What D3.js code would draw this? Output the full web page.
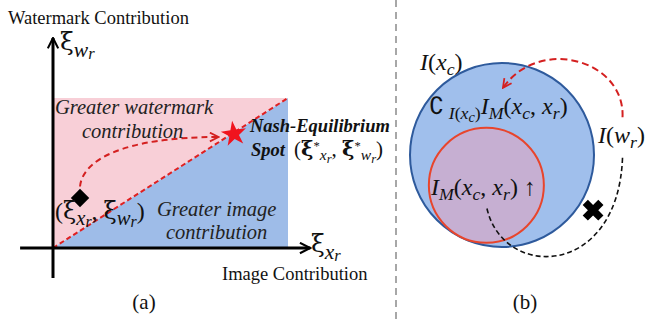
<!DOCTYPE html>
<html><head><meta charset="utf-8">
<script src="https://cdn.jsdelivr.net/npm/d3@7"></script>
<style>body{margin:0;background:#fff}svg{display:block}</style>
</head><body>
<script>
// ---------- data ----------
// panel (a): unit square of contributions
const regionNames = ["Greater watermark contribution", "Greater image contribution"];
const regionColors = ["#f8cfd7", "#9ebce8"];
const diagonal = [[0, 0], [1, 1]];
const startPoint = [0.115, 0.333];          // (xi_xr, xi_wr)
const nashPoint = [0.77, 0.76];             // Nash-Equilibrium spot
const pathCtrl = [[0.115, 0.41], [0.125, 0.58], [0.29, 0.74], [0.705, 0.74]];
const axisLabels = ["Watermark Contribution", "Image Contribution"];
const panelLabels = ["(a)", "(b)"];
// panel (b): information sets (units of outer radius)
const circles = [
  {name: "I(xc)", cx: 0, cy: 0, r: 1, fill: "#a0bfec", stroke: "#2e5a9c"},
  {name: "IM", cx: -0.17, cy: 0.33, r: 0.625, fill: "#c6afd2", stroke: "#e8452c"}
];
const redArc = [[1.31, -0.41], [1.34, -1.03], [0.41, -1.30], [0.01, -0.73]];
const blackArc = [[1.31, 0.03], [1.26, 1.36], [-0.02, 1.36], [-0.17, 0.55]];
const crossPoint = [0.99, 0.60];

const W = 647, H = 324;
const svg = d3.select("body").append("svg").attr("width", W).attr("height", H);
const defs = svg.append("defs");
function marker(id, color, w) {
  defs.append("marker").attr("id", id).attr("viewBox", "0 0 10 10").attr("refX", 9).attr("refY", 5)
    .attr("markerWidth", w).attr("markerHeight", w).attr("orient", "auto").attr("markerUnits", "userSpaceOnUse")
    .append("path").attr("d", "M1,1 L9,5 L1,9").attr("fill", "none").attr("stroke", color).attr("stroke-width", 1.6);
}
marker("arrRed", "#d42020", 11);
marker("arrBlk", "#000", 13);

const SERIF = "Liberation Serif";
const XI = "DejaVu Serif";

// rich text helper: parts = [text, kind, attrs] kind: n (normal), s (sub), ss (sub of sub), p (sup)
function rich(g, x, y, size, parts, opts = {}) {
  const t = g.append("text").attr("x", x).attr("y", y).attr("font-size", size)
    .attr("font-family", SERIF).attr("font-style", "italic")
    .attr("font-weight", opts.weight || "normal").attr("fill", "#111");
  const shifts = Object.assign({n: 0, s: 0.2, ss: 0.34, p: -0.28}, opts.shifts || {});
  const scale = Object.assign({n: 1, s: 0.74, ss: 0.6, p: 0.6}, opts.scale || {});
  let cur = 0;
  parts.forEach(([txt, k, extra]) => {
    const target = shifts[k] * size;
    const ts = t.append("tspan").attr("dy", target - cur).attr("font-size", size * scale[k]).text(txt);
    if (extra) Object.entries(extra).forEach(([a, v]) => ts.attr(a, v));
    cur = target;
  });
  return t;
}
const up = {"font-style": "normal"};
const xi = {"font-style": "normal", "font-family": XI};
const xiB = {"font-style": "normal", "font-family": XI, "font-weight": "bold"};
const axisSub = {shifts: {s: 0.26, ss: 0.34}, scale: {s: 0.86, ss: 0.66}};

// ---------- panel (a) ----------
const x = d3.scaleLinear().domain([0, 1]).range([53, 288]);
const y = d3.scaleLinear().domain([0, 1]).range([248, 98]);
const ga = svg.append("g");

const tri = [
  [[0, 0], [0, 1], [1, 1]],
  [[0, 0], [1, 0], [1, 1]]
];
ga.selectAll("path.region").data(tri).join("path").attr("class", "region")
  .attr("d", d => d3.line().x(p => x(p[0])).y(p => y(p[1]))(d) + "Z")
  .attr("fill", (d, i) => regionColors[i]);

ga.append("path").attr("d", d3.line().x(p => x(p[0])).y(p => y(p[1]))(diagonal))
  .attr("stroke", "#e02020").attr("stroke-width", 2).attr("stroke-dasharray", "5,3").attr("fill", "none");

// axes
ga.append("line").attr("x1", x(0)).attr("x2", x(0)).attr("y1", y(-0.2)).attr("y2", y(1.40))
  .attr("stroke", "#000").attr("stroke-width", 3).attr("marker-end", "url(#arrBlk)");
ga.append("line").attr("x1", x(-0.14)).attr("x2", x(1.095)).attr("y1", y(0)).attr("y2", y(0))
  .attr("stroke", "#000").attr("stroke-width", 3).attr("marker-end", "url(#arrBlk)");

// dashed path from start to Nash
const cp = pathCtrl.map(p => [x(p[0]), y(p[1])]);
ga.append("path").attr("d", `M${cp[0]} C${cp[1]} ${cp[2]} ${cp[3]}`)
  .attr("fill", "none").attr("stroke", "#d42020").attr("stroke-width", 2).attr("stroke-dasharray", "6,4")
  .attr("marker-end", "url(#arrRed)");

ga.append("path").attr("d", d3.symbol(d3.symbolSquare, 170)())
  .attr("transform", `translate(${x(startPoint[0])},${y(startPoint[1])}) rotate(45)`).attr("fill", "#000");
ga.append("path").attr("d", d3.symbol(d3.symbolStar, 200)())
  .attr("transform", `translate(${x(nashPoint[0])},${y(nashPoint[1])}) rotate(-8)`).attr("fill", "#f0141e");

// labels
ga.append("text").attr("x", 8).attr("y", 24).attr("font-family", SERIF).attr("font-size", 18.5).attr("fill", "#111").text(axisLabels[0]);
ga.append("text").attr("x", 222).attr("y", 280).attr("font-family", SERIF).attr("font-size", 18.5).attr("fill", "#111").text(axisLabels[1]);
rich(ga, 60, 50, 25, [["ξ", "n", xi], ["w", "s"], ["r", "ss"]], axisSub);
rich(ga, 311, 252, 25, [["ξ", "n", xi], ["x", "s"], ["r", "ss"]], axisSub);

const wordsTop = regionNames[0].split(" ");
ga.append("text").attr("x", 55).attr("y", 114).attr("font-family", SERIF).attr("font-style", "italic").attr("font-size", 20.5).attr("fill", "#222")
  .text(wordsTop.slice(0, 2).join(" "));
ga.append("text").attr("x", 82).attr("y", 138).attr("font-family", SERIF).attr("font-style", "italic").attr("font-size", 20.5).attr("fill", "#222")
  .text(wordsTop[2]);
const wordsBot = regionNames[1].split(" ");
ga.append("text").attr("x", 157).attr("y", 216).attr("font-family", SERIF).attr("font-style", "italic").attr("font-size", 20.5).attr("fill", "#222")
  .text(wordsBot.slice(0, 2).join(" "));
ga.append("text").attr("x", 166).attr("y", 239).attr("font-family", SERIF).attr("font-style", "italic").attr("font-size", 20.5).attr("fill", "#222")
  .text(wordsBot[2]);

rich(ga, 55, 219, 24, [["(", "n", up], ["ξ", "n", xi], ["x", "s"], ["r", "ss"], [", ", "n", up], ["ξ", "n", xi], ["w", "s"], ["r", "ss"], [")", "n", up]], axisSub);

ga.append("text").attr("x", 250).attr("y", 132).attr("font-family", SERIF).attr("font-style", "italic").attr("font-weight", "bold").attr("font-size", 18.5).attr("fill", "#111").text("Nash-Equilibrium");
ga.append("text").attr("x", 251).attr("y", 156).attr("font-family", SERIF).attr("font-style", "italic").attr("font-weight", "bold").attr("font-size", 18.5).attr("fill", "#111").text("Spot");
rich(ga, 294, 156, 21, [["(", "n", up], ["ξ", "n", xiB], ["*", "p", up], ["x", "s"], ["r", "ss"], [", ", "n", up], ["ξ", "n", xiB], ["*", "p", up], ["w", "s"], ["r", "ss"], [")", "n", up]]);

ga.append("text").attr("x", 144).attr("y", 309).attr("text-anchor", "middle").attr("font-family", SERIF).attr("font-size", 21).attr("fill", "#111").text(panelLabels[0]);

// divider
svg.append("line").attr("x1", 396).attr("x2", 396).attr("y1", 0).attr("y2", H)
  .attr("stroke", "#8a8a8a").attr("stroke-width", 1.5).attr("stroke-dasharray", "7,5");

// ---------- panel (b) ----------
const R = 92;
const bx = d3.scaleLinear().domain([0, 1]).range([502, 502 + R]);
const by = d3.scaleLinear().domain([0, 1]).range([155, 155 + R]);
const gb = svg.append("g");
gb.selectAll("circle").data(circles).join("circle")
  .attr("cx", d => bx(d.cx)).attr("cy", d => by(d.cy)).attr("r", d => bx(d.r) - bx(0))
  .attr("fill", d => d.fill).attr("stroke", d => d.stroke).attr("stroke-width", 2);

const ra = redArc.map(p => [bx(p[0]), by(p[1])]);
gb.append("path").attr("d", `M${ra[0]} C${ra[1]} ${ra[2]} ${ra[3]}`)
  .attr("fill", "none").attr("stroke", "#d42020").attr("stroke-width", 2).attr("stroke-dasharray", "7,4")
  .attr("marker-end", "url(#arrRed)");
const ba = blackArc.map(p => [bx(p[0]), by(p[1])]);
gb.append("path").attr("d", `M${ba[0]} C${ba[1]} ${ba[2]} ${ba[3]}`)
  .attr("fill", "none").attr("stroke", "#111").attr("stroke-width", 1.6).attr("stroke-dasharray", "5,3");
gb.append("path").attr("d", d3.symbol(d3.symbolCross, 270)())
  .attr("transform", `translate(${bx(crossPoint[0])},${by(crossPoint[1])}) rotate(45)`).attr("fill", "#000");

rich(gb, 420, 70, 24, [["I", "n"], ["(", "n", up], ["x", "n"], ["c", "s"], [")", "n", up]]);
rich(gb, 598, 143, 24, [["I", "n"], ["(", "n", up], ["w", "n"], ["r", "s"], [")", "n", up]]);
rich(gb, 429, 114, 24, [["∁", "n", {"font-style": "normal", "font-family": "DejaVu Sans", "font-size": 24}], [" I", "s"], ["(", "s", up], ["x", "s"], ["c", "ss"], [")", "s", up], ["I", "n"], ["M", "s"], ["(", "n", up], ["x", "n"], ["c", "s"], [", ", "n", up], ["x", "n"], ["r", "s"], [")", "n", up]]);
rich(gb, 431, 195, 24, [["I", "n"], ["M", "s"], ["(", "n", up], ["x", "n"], ["c", "s"], [", ", "n", up], ["x", "n"], ["r", "s"], [")", "n", up], [" ↑", "n", up]]);

gb.append("text").attr("x", 525).attr("y", 309).attr("text-anchor", "middle").attr("font-family", SERIF).attr("font-size", 21).attr("fill", "#111").text(panelLabels[1]);
</script>
</body></html>
